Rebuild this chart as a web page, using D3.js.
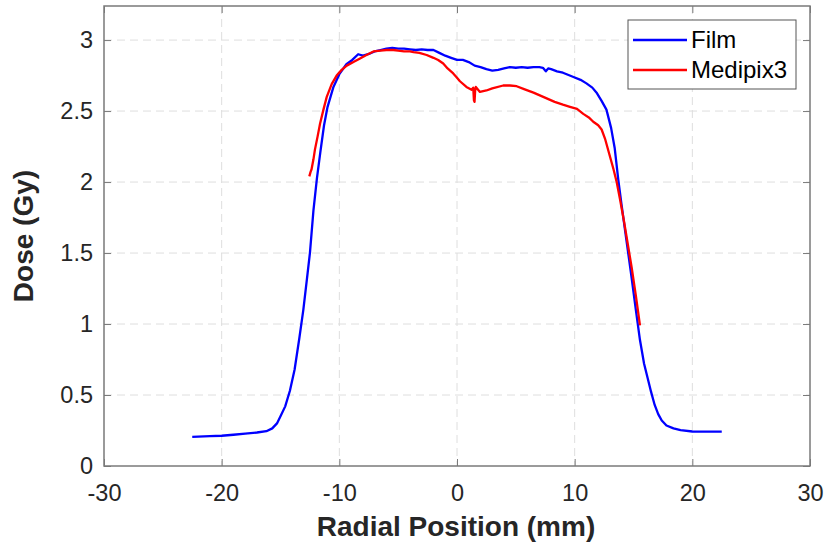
<!DOCTYPE html>
<html>
<head>
<meta charset="utf-8" />
<style>
  body { margin: 0; background: #fff; }
  svg { display: block; }
  text { font-family: "Liberation Sans", Arial, Helvetica, sans-serif; }
</style>
</head>
<body>
<svg id="chart" width="826" height="546"></svg>
<script src="https://cdn.jsdelivr.net/npm/d3@7"></script>
<script>
// radial position (mm) and dose (Gy)
var filmX = [-22.5, -21, -20, -19, -18, -17, -16.2, -15.7, -15.3, -15.0, -14.6, -14.2, -13.8, -13.4, -13.06, -12.75, -12.5, -12.2, -11.9, -11.6, -11.3, -11.0, -10.5, -10.0, -9.4, -8.9, -8.4, -8.0, -7.4, -7.0, -6.5, -6.0, -5.5, -5.0, -4.5, -4.0, -3.5, -3.0, -2.5, -2.0, -1.5, -1.0, -0.5, 0, 0.5, 1.0, 1.5, 2.0, 2.5, 3.0, 3.5, 4.0, 4.5, 5.0, 5.5, 6.0, 6.5, 7.0, 7.3, 7.55, 7.75, 8.0, 8.5, 9.0, 9.9, 10.5, 11.0, 11.5, 11.9, 12.3, 12.7, 13.1, 13.4, 13.7, 14.0, 14.4, 14.8, 15.2, 15.55, 15.9, 16.2, 16.5, 16.8, 17.1, 17.4, 17.8, 18.4, 19.0, 20.0, 21.0, 22.5];
var filmY = [0.205, 0.21, 0.213, 0.22, 0.228, 0.236, 0.245, 0.265, 0.30, 0.35, 0.42, 0.53, 0.68, 0.90, 1.10, 1.32, 1.50, 1.80, 2.03, 2.22, 2.40, 2.53, 2.67, 2.76, 2.83, 2.86, 2.90, 2.89, 2.905, 2.92, 2.93, 2.94, 2.945, 2.94, 2.94, 2.935, 2.93, 2.935, 2.93, 2.93, 2.91, 2.89, 2.875, 2.86, 2.86, 2.845, 2.82, 2.81, 2.795, 2.785, 2.79, 2.80, 2.81, 2.805, 2.81, 2.805, 2.81, 2.81, 2.805, 2.78, 2.80, 2.795, 2.78, 2.77, 2.74, 2.72, 2.695, 2.665, 2.625, 2.57, 2.51, 2.38, 2.24, 2.02, 1.83, 1.59, 1.35, 1.10, 0.887, 0.72, 0.62, 0.52, 0.43, 0.365, 0.32, 0.285, 0.265, 0.252, 0.243, 0.242, 0.242];

var mediX = [-12.55, -12.45, -12.36, -12.2, -12.07, -11.85, -11.64, -11.35, -11.07, -10.65, -10.23, -9.8, -9.37, -8.8, -8.24, -7.7, -7.1, -6.5, -6.0, -5.4, -5.0, -4.5, -4.0, -3.7, -3.2, -2.58, -2.0, -1.6, -1.17, -0.8, -0.32, 0, 0.25, 0.8, 1.24, 1.38, 1.44, 1.49, 1.54, 1.6, 1.95, 2.5, 3.0, 3.93, 4.5, 5.07, 5.7, 6.5, 7.33, 8.3, 9.0, 9.6, 10.2, 10.73, 11.2, 11.58, 12.0, 12.29, 12.6, 13.0, 13.3, 13.57, 13.85, 14.2, 14.84, 15.2, 15.55];
var mediY = [2.04, 2.07, 2.09, 2.16, 2.23, 2.32, 2.41, 2.51, 2.60, 2.69, 2.75, 2.79, 2.82, 2.845, 2.87, 2.895, 2.92, 2.925, 2.93, 2.93, 2.925, 2.92, 2.92, 2.915, 2.91, 2.895, 2.875, 2.86, 2.835, 2.80, 2.765, 2.735, 2.71, 2.67, 2.65, 2.665, 2.575, 2.565, 2.64, 2.67, 2.635, 2.645, 2.66, 2.68, 2.68, 2.675, 2.655, 2.63, 2.60, 2.565, 2.545, 2.53, 2.515, 2.48, 2.455, 2.425, 2.40, 2.37, 2.30, 2.18, 2.09, 2.00, 1.88, 1.72, 1.40, 1.20, 0.99];

var xTicks = [-30, -20, -10, 0, 10, 20, 30];
var yTicks = [0, 0.5, 1, 1.5, 2, 2.5, 3];
var seriesNames = ['Film', 'Medipix3'];
var seriesColors = ['#0000ff', '#ff0000'];

var svg = d3.select('#chart');
var pLeft = 104, pRight = 810, pTop = 6, pBottom = 466;

var x = d3.scaleLinear().domain([-30, 30]).range([pLeft, pRight]);
var y = d3.scaleLinear().domain([0, 3.24]).range([pBottom, pTop]);

// grid
var grid = svg.append('g').attr('stroke', '#dedede').attr('stroke-width', 1).attr('stroke-dasharray', '8,5');
grid.selectAll('.gx').data(xTicks.slice(1, -1)).enter().append('line')
    .attr('x1', function(d){ return x(d); }).attr('x2', function(d){ return x(d); })
    .attr('y1', pTop).attr('y2', pBottom);
grid.selectAll('.gy').data(yTicks.slice(1)).enter().append('line')
    .attr('y1', function(d){ return y(d); }).attr('y2', function(d){ return y(d); })
    .attr('x1', pLeft).attr('x2', pRight);

// lines
var line = d3.line()
    .x(function(d){ return x(d[0]); })
    .y(function(d){ return y(d[1]); });

var series = [d3.zip(filmX, filmY), d3.zip(mediX, mediY)];
svg.selectAll('.series').data(series).enter().append('path')
    .attr('class', 'series')
    .attr('d', line)
    .attr('fill', 'none')
    .attr('stroke', function(d, i){ return seriesColors[i]; })
    .attr('stroke-width', 2.3)
    .attr('stroke-linejoin', 'round');

// axes (ticks inside, box on)
var axisColor = '#7a7a7a';
var plain = function(d){ return String(d); };
function styleAxis(g){
    g.select('.domain').remove();
    g.selectAll('.tick line').attr('stroke', axisColor);
    g.selectAll('.tick text').attr('fill', '#262626').style('font-size', '23.5px');
}
svg.append('g').attr('transform', 'translate(0,' + pBottom + ')')
    .call(d3.axisBottom(x).tickValues(xTicks).tickFormat(plain).tickSizeInner(-7).tickSizeOuter(0).tickPadding(18))
    .call(styleAxis);
svg.append('g').attr('transform', 'translate(0,' + pTop + ')')
    .call(d3.axisTop(x).tickValues(xTicks).tickSizeInner(-7).tickSizeOuter(0).tickFormat(''))
    .call(styleAxis);
svg.append('g').attr('transform', 'translate(' + pLeft + ',0)')
    .call(d3.axisLeft(y).tickValues(yTicks).tickFormat(plain).tickSizeInner(-7).tickSizeOuter(0).tickPadding(11))
    .call(styleAxis);
svg.append('g').attr('transform', 'translate(' + pRight + ',0)')
    .call(d3.axisRight(y).tickValues(yTicks).tickSizeInner(-7).tickSizeOuter(0).tickFormat(''))
    .call(styleAxis);

svg.append('rect')
    .attr('x', pLeft).attr('y', pTop)
    .attr('width', pRight - pLeft).attr('height', pBottom - pTop)
    .attr('fill', 'none').attr('stroke', axisColor).attr('stroke-width', 1.5);

// axis labels
svg.append('text')
    .attr('x', 456).attr('y', 536)
    .attr('text-anchor', 'middle')
    .attr('fill', '#262626')
    .style('font-size', '28px').style('font-weight', 'bold')
    .text('Radial Position (mm)');
svg.append('text')
    .attr('transform', 'translate(33,' + ((pTop + pBottom) / 2) + ') rotate(-90)')
    .attr('text-anchor', 'middle')
    .attr('fill', '#262626')
    .style('font-size', '28px').style('font-weight', 'bold')
    .text('Dose (Gy)');

// legend
var legend = svg.append('g');
legend.append('rect')
    .attr('x', 628).attr('y', 20).attr('width', 168).attr('height', 69)
    .attr('fill', '#fff').attr('stroke', '#555').attr('stroke-width', 1);
legend.selectAll('.key').data(seriesNames).enter().append('line')
    .attr('x1', 633).attr('x2', 687)
    .attr('y1', function(d, i){ return 40 + i * 30; })
    .attr('y2', function(d, i){ return 40 + i * 30; })
    .attr('stroke', function(d, i){ return seriesColors[i]; })
    .attr('stroke-width', 2.3);
legend.selectAll('.key-text').data(seriesNames).enter().append('text')
    .attr('x', 691)
    .attr('y', function(d, i){ return 48 + i * 30; })
    .attr('fill', '#000')
    .style('font-size', '24px')
    .text(function(d){ return d; });
</script>
</body>
</html>
